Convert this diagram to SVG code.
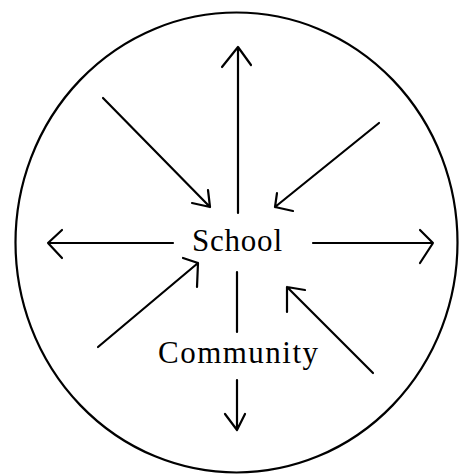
<svg xmlns="http://www.w3.org/2000/svg" width="459" height="474" viewBox="0 0 459 474">
<style>
.c{fill:none;stroke:#000;stroke-width:2.2;stroke-linecap:round;stroke-linejoin:round}
.t{font-family:"Liberation Serif","Times New Roman",serif;font-size:31px;fill:#000}
</style>
<rect width="459" height="474" fill="#fff"/>
<g id="boundary"><ellipse class="c" cx="236.5" cy="242.5" rx="221" ry="230"/></g>
<g id="school"><text class="t" x="192" y="251" textLength="90" lengthAdjust="spacing">School</text></g>
<g id="community"><text class="t" x="158" y="363" textLength="160" lengthAdjust="spacing">Community</text></g>
<g id="connectors">
<path class="c" d="M238 213V47M222 67L238 47L251 65"/>
<path class="c" d="M237 272V332M237 380V430M225 414L237 430L245 414"/>
<path class="c" d="M173 243H48M62 230L48 243L62 258"/>
<path class="c" d="M313 243H433M420 230L433 243L420 263"/>
<path class="c" d="M103 98L210 207M192 203L210 207L208 190"/>
<path class="c" d="M379 123L275 207M293 211L275 207L277 193"/>
<path class="c" d="M98 347L198 263M183 258L198 263L197 287"/>
<path class="c" d="M373 373L287 287M305 290L287 287L287 312"/>
</g>
</svg>
